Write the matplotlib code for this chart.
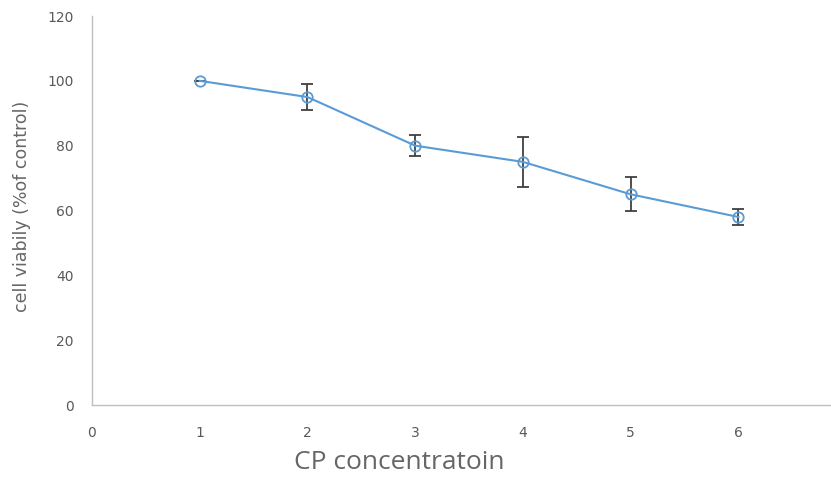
import matplotlib
matplotlib.use("Agg")
import matplotlib.pyplot as plt

x = [1, 2, 3, 4, 5, 6]
viability = [100, 95, 80, 75, 65, 58]
errors = [0, 4, 3.2, 7.6, 5.2, 2.6]
xticks = [0, 1, 2, 3, 4, 5, 6]
yticks = [0, 20, 40, 60, 80, 100, 120]

plt.rcParams['font.family'] = ['Open Sans', 'DejaVu Sans']
fig = plt.figure(figsize=(8.31, 4.78), dpi=100)
ax = fig.add_axes([0.1107, 0.1527, 0.8881, 0.8138])

ax.errorbar(x, viability, yerr=errors, fmt='none', ecolor='#404040', elinewidth=1.3, capsize=4, capthick=1.3, zorder=2)
ax.plot(x, viability, color='#5B9BD5', lw=1.5, marker='o', ms=7.5, mfc='none', mec='#5B9BD5', mew=1.3, zorder=3)

ax.set_xlim(0, 6.85)
ax.set_ylim(0, 120)
ax.set_xticks(xticks)
ax.set_yticks(yticks)
for s in ['top', 'right']:
    ax.spines[s].set_visible(False)
for s in ['left', 'bottom']:
    ax.spines[s].set_color('#BFBFBF')
    ax.spines[s].set_linewidth(1.0)
ax.tick_params(axis='both', length=0, colors='#595959')
ax.tick_params(axis='y', pad=13, labelsize=10)
ax.tick_params(axis='x', pad=15, labelsize=10)
for lab in ax.get_yticklabels() + ax.get_xticklabels():
    lab.set_family(['DejaVu Sans'])
ax.set_ylabel('cell viabily (%of control)', fontsize=12.5, color='#666666', family=['DejaVu Sans'])
ax.set_xlabel('CP concentratoin', fontsize=19, color='#666666')
ax.yaxis.set_label_coords(-0.095, 0.51)
ax.yaxis.label.set_va('center')
ax.xaxis.set_label_coords(0.417, -0.149)
ax.xaxis.label.set_va('center')

fig.savefig('out.png', dpi=100)
